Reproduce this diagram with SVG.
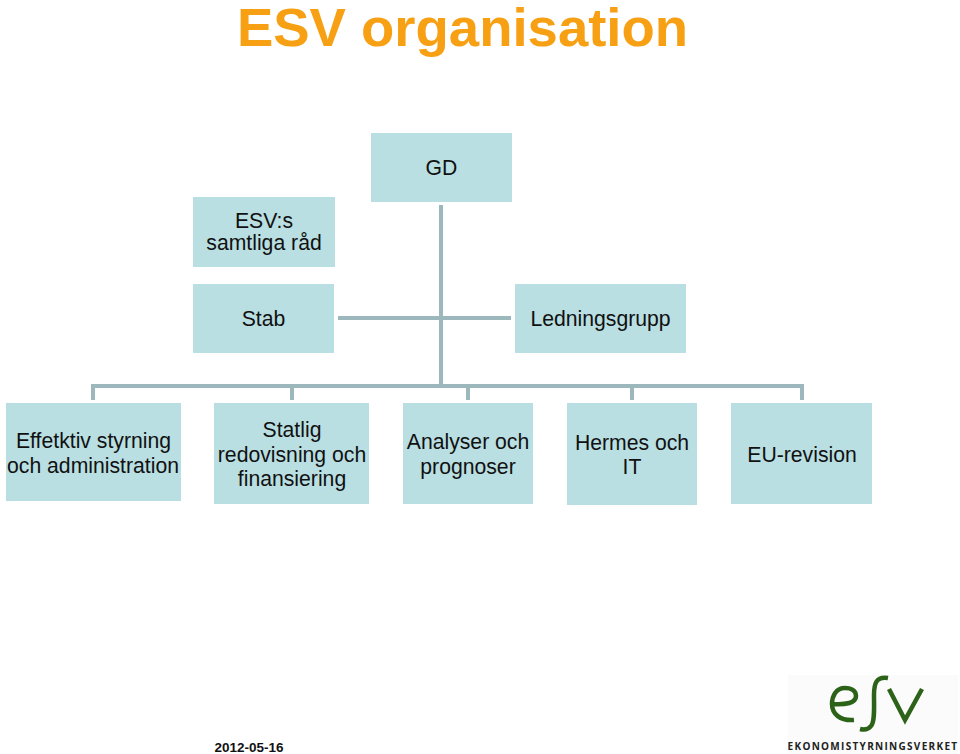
<svg xmlns="http://www.w3.org/2000/svg" width="960" height="754" viewBox="0 0 960 754">
<style>
.box{fill:#b9dfe3}
.t{font-family:"Liberation Sans",Arial,sans-serif;font-size:21.200px;fill:#111;text-anchor:middle}
.c{stroke:#9cb8bd;stroke-width:4;fill:none}
.title{font-family:"Liberation Sans",Arial,sans-serif;font-size:54.500px;font-weight:bold;fill:#f7a013;text-anchor:middle}
.l{fill:none;stroke:#2c6318;stroke-width:4.500}
</style>
<rect width="960" height="754" fill="#fff"/>
<text class="title" x="462.500" y="46">ESV organisation</text>
<g id="connectors">
<path class="c" d="M441 205V386M338 318H511M93 400V386H802V400M292 386V400M468 386V400M632 386V400"/>
</g>
<g id="gd"><rect class="box" x="371" y="133" width="141" height="69"/><text class="t" x="441.500" y="175">GD</text></g>
<g id="rad"><rect class="box" x="193" y="197" width="142" height="70"/><text class="t" x="264" y="228">ESV:s</text><text class="t" x="264" y="250">samtliga råd</text></g>
<g id="stab"><rect class="box" x="193" y="284" width="141" height="69"/><text class="t" x="263.500" y="326">Stab</text></g>
<g id="ledningsgrupp"><rect class="box" x="515" y="284" width="171" height="69"/><text class="t" x="600.500" y="326">Ledningsgrupp</text></g>
<g id="effektiv"><rect class="box" x="6" y="403" width="175" height="98"/><text class="t" x="93.500" y="448">Effetktiv styrning</text><text class="t" x="93" y="473">och administration</text></g>
<g id="statlig"><rect class="box" x="214" y="403" width="155" height="101"/><text class="t" x="292" y="437">Statlig</text><text class="t" x="292" y="462">redovisning och</text><text class="t" x="292" y="486">finansiering</text></g>
<g id="analyser"><rect class="box" x="403" y="403" width="130" height="101"/><text class="t" x="468" y="449">Analyser och</text><text class="t" x="468" y="474">prognoser</text></g>
<g id="hermes"><rect class="box" x="567" y="403" width="130" height="102"/><text class="t" x="632" y="450">Hermes och</text><text class="t" x="632" y="474">IT</text></g>
<g id="eu"><rect class="box" x="731" y="403" width="141" height="101"/><text class="t" x="802" y="462">EU-revision</text></g>
<text x="249" y="752" font-family="Liberation Sans,Arial,sans-serif" font-size="13.500" font-weight="bold" text-anchor="middle" fill="#111">2012-05-16</text>
<g id="logo">
<rect x="788" y="675" width="170" height="79" fill="#fbfbfb"/>
<path class="l" d="M832 704C846 705 856 703 856 696C856 690 850 688 845 688C836 688 832 696 832 704C832 714 840 721 854 720"/>
<path class="l" d="M888 678C876 676 874 684 874 695C874 706 875 722 871 726C868 730 864 730 860 729"/>
<path class="l" d="M889 689L905 720L922 689"/>
<text x="873" y="750" font-family="Open Sans,Liberation Sans,sans-serif" font-size="10" font-weight="bold" letter-spacing="1.300" text-anchor="middle" fill="#222">EKONOMISTYRNINGSVERKET</text>
</g>
</svg>
